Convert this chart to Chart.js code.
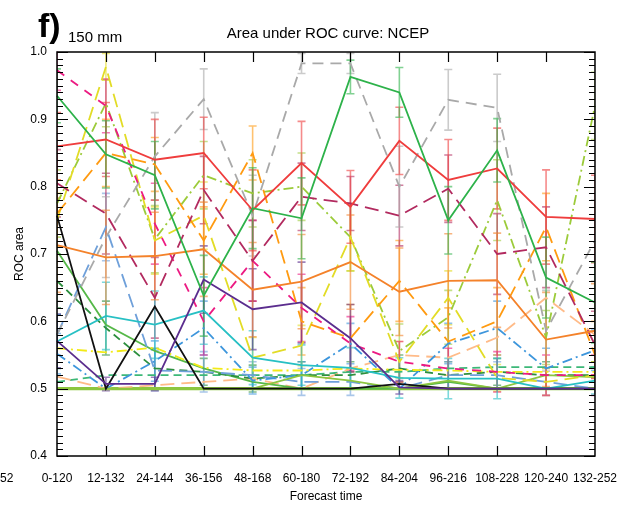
<!DOCTYPE html>
<html>
<head>
<meta charset="utf-8">
<script src="https://cdn.jsdelivr.net/npm/chart.js@4.4.1/dist/chart.umd.min.js"></script>
<style>
  html, body { margin: 0; padding: 0; background: #fff; }
  #wrap { width: 632px; height: 506px; }
</style>
</head>
<body>
<div id="wrap"><canvas id="roc"></canvas></div>
<script>
const categories = ["0-120", "12-132", "24-144", "36-156", "48-168", "60-180",
  "72-192", "84-204", "96-216", "108-228", "120-240", "132-252"];

const yTicks = [0.4, 0.5, 0.6, 0.7, 0.8, 0.9, 1.0];

// solid lines
const redSolid = [0.86, 0.87, 0.84, 0.85, 0.765, 0.835, 0.77, 0.868, 0.81, 0.827, 0.755, 0.752];
const redErr = [0.05, 0.055, 0.06, 0.053, 0.06, 0.062, 0.054, 0.05, 0.06, 0.06, 0.07, 0.065];
const greenSolid = [0.935, 0.848, 0.817, 0.638, 0.768, 0.753, 0.963, 0.94, 0.75, 0.854, 0.665, 0.628];
const greenErr = [0.04, 0.05, 0.05, 0.06, 0.06, 0.06, 0.025, 0.037, 0.05, 0.047, 0.06, 0.06];
const orangeSolid = [0.713, 0.695, 0.697, 0.707, 0.647, 0.659, 0.688, 0.644, 0.66, 0.661, 0.573, 0.586];
const orangeErr = [0.07, 0.07, 0.065, 0.07, 0.07, 0.07, 0.07, 0.065, 0.07, 0.07, 0.07, 0.07];
const purpleSolid = [0.571, 0.507, 0.507, 0.662, 0.618, 0.628, 0.575, 0.502, 0.5, 0.5, 0.5, 0.5];
const purpleErr = [0.04, 0.01, 0.01, 0.05, 0.06, 0.06, 0.05, 0.01, 0, 0, 0, 0];
const blackSolid = [0.757, 0.5, 0.622, 0.5, 0.5, 0.5, 0.5, 0.507, 0.5, 0.5, 0.5, 0.5];
const cyanSolid = [0.57, 0.608, 0.595, 0.616, 0.546, 0.535, 0.531, 0.516, 0.515, 0.515, 0.5, 0.512];
const cyanErr = [0.04, 0.05, 0.05, 0.05, 0.04, 0.03, 0.03, 0.03, 0.03, 0.03, 0, 0.02];
const midGreenSolid = [0.705, 0.595, 0.556, 0.53, 0.51, 0.5, 0.5, 0.5, 0.51, 0.5, 0.5, 0.5];
const limeSolid = [0.5, 0.5, 0.5, 0.5, 0.5, 0.52, 0.512, 0.5, 0.512, 0.5, 0.52, 0.517];
const baseline = [0.5, 0.5, 0.5, 0.5, 0.5, 0.5, 0.5, 0.5, 0.5, 0.5, 0.5, 0.5];

// dashed / dash-dot lines
const grayDash = [0.58, 0.725, 0.845, 0.93, 0.757, 0.983, 0.983, 0.8, 0.929, 0.917, 0.586, 0.72];
const grayErr = [0.05, 0.06, 0.065, 0.045, 0.06, 0.015, 0.015, 0.06, 0.045, 0.05, 0.06, 0.06];
const pinkDash = [0.973, 0.92, 0.745, 0.6, 0.69, 0.62, 0.567, 0.54, 0.53, 0.525, 0.52, 0.52];
const pinkErr = [0.03, 0.04, 0.06, 0.05, 0.06, 0.05, 0.04, 0.03, 0.03, 0.03, 0.03, 0.03];
const maroonDash = [0.805, 0.76, 0.635, 0.795, 0.69, 0.785, 0.775, 0.757, 0.797, 0.70, 0.71, 0.565];
const maroonErr = [0.05, 0.06, 0.06, 0.05, 0.06, 0.05, 0.04, 0.045, 0.05, 0.06, 0.06, 0.05];
const orangeDash = [0.76, 0.85, 0.833, 0.72, 0.85, 0.6, 0.575, 0.66, 0.57, 0.6, 0.74, 0.55];
const orangeDashErr = [0.05, 0.05, 0.04, 0.05, 0.04, 0.05, 0.05, 0.06, 0.05, 0.05, 0.05, 0.05];
const yellowDash = [0.75, 0.978, 0.72, 0.757, 0.546, 0.564, 0.725, 0.54, 0.635, 0.516, 0.51, 0.52];
const yellowDashErr = [0.04, 0.02, 0.05, 0.05, 0.03, 0.03, 0.05, 0.03, 0.04, 0.02, 0.02, 0.02];
const limeDashDot = [0.775, 0.924, 0.722, 0.817, 0.79, 0.8, 0.725, 0.556, 0.606, 0.78, 0.576, 0.92];
const limeDashDotErr = [0.05, 0.035, 0.05, 0.05, 0.05, 0.05, 0.05, 0.04, 0.04, 0.06, 0.04, 0.05];
const yellowDashDot = [0.56, 0.554, 0.561, 0.531, 0.527, 0.527, 0.53, 0.528, 0.527, 0.525, 0.525, 0.525];
const blueDash = [0.58, 0.74, 0.527, 0.525, 0.52, 0.51, 0.51, 0.5, 0.52, 0.52, 0.51, 0.5];
const blueDashErr = [0.03, 0.05, 0.03, 0.03, 0.02, 0.02, 0.02, 0, 0.02, 0.02, 0.02, 0];
const blueDashDot = [0.552, 0.5, 0.541, 0.59, 0.512, 0.52, 0.567, 0.5, 0.567, 0.59, 0.53, 0.557];
const blueDashDotErr = [0.03, 0, 0.03, 0.04, 0.02, 0.02, 0.03, 0, 0.03, 0.04, 0.03, 0.03];
const darkGreenDash = [0.66, 0.59, 0.53, 0.525, 0.515, 0.52, 0.52, 0.53, 0.52, 0.525, 0.52, 0.52];
const darkGreenErr = [0.04, 0.04, 0.03, 0.02, 0.02, 0.02, 0.02, 0.02, 0.02, 0.02, 0.02, 0.02];
const peachDash = [0.518, 0.5, 0.505, 0.51, 0.515, 0.5, 0.53, 0.55, 0.546, 0.576, 0.635, 0.58];
const seaGreenDash = [0.51, 0.52, 0.52, 0.52, 0.52, 0.52, 0.525, 0.525, 0.53, 0.532, 0.532, 0.532];

const longDash = [14, 7];
const dashDot = [10, 4, 2, 4];

function line(data, color, opts) {
  return Object.assign({
    data: data,
    borderColor: color,
    backgroundColor: color,
    borderWidth: 1.8,
    pointRadius: 0,
    tension: 0,
    fill: false,
  }, opts || {});
}

// first dataset is drawn on top
const datasets = [
  line(greenSolid, "#2db24a", { errors: greenErr }),
  line(redSolid, "#ef3d3d", { errors: redErr }),
  line(orangeSolid, "#f4822a", { errors: orangeErr }),
  line(purpleSolid, "#5b2d8e", { errors: purpleErr }),
  line(blackSolid, "#111111"),
  line(cyanSolid, "#27c0c4", { errors: cyanErr }),
  line(grayDash, "#a9a9a9", { borderDash: [11, 7], errors: grayErr }),
  line(maroonDash, "#b22a5f", { borderDash: longDash, errors: maroonErr }),
  line(pinkDash, "#ec1a82", { borderDash: [9, 8], errors: pinkErr }),
  line(orangeDash, "#ff9a10", { borderDash: longDash, errors: orangeDashErr }),
  line(yellowDash, "#e2dc26", { borderDash: longDash, errors: yellowDashErr }),
  line(limeDashDot, "#9ccb3a", { borderDash: dashDot, errors: limeDashDotErr }),
  line(limeSolid, "#8cc63f"),
  line(yellowDashDot, "#f2ea18", { borderDash: dashDot }),
  line(blueDashDot, "#3d96dc", { borderDash: dashDot, errors: blueDashDotErr }),
  line(blueDash, "#6fa0da", { borderDash: longDash, errors: blueDashErr }),
  line(darkGreenDash, "#2d8f3e", { borderDash: [8, 5], errors: darkGreenErr }),
  line(midGreenSolid, "#55b848"),
  line(peachDash, "#ffbb88", { borderDash: longDash }),
  line(seaGreenDash, "#3cb878", { borderDash: [8, 5] }),
  line(baseline, "#8cc63f", { borderWidth: 3.2 }),
];

function withAlpha(hex, a) {
  const n = parseInt(hex.slice(1), 16);
  return "rgba(" + (n >> 16) + "," + ((n >> 8) & 255) + "," + (n & 255) + "," + a + ")";
}

const framePlugin = {
  id: "frame",
  beforeDatasetsDraw(chart) {
    const ctx = chart.ctx;
    const area = chart.chartArea;
    const yScale = chart.scales.y;
    ctx.save();
    ctx.beginPath();
    ctx.rect(area.left, area.top - 1, area.right - area.left, area.bottom - area.top + 2);
    ctx.clip();
    ctx.lineWidth = 1.6;
    for (let i = chart.data.datasets.length - 1; i >= 0; i--) {
      const ds = chart.data.datasets[i];
      if (!ds.errors) continue;
      const meta = chart.getDatasetMeta(i);
      ctx.strokeStyle = withAlpha(ds.borderColor, 0.6);
      ds.data.forEach((v, j) => {
        const e = ds.errors[j];
        if (!e) return;
        const x = meta.data[j].x;
        const y1 = yScale.getPixelForValue(v + e);
        const y2 = yScale.getPixelForValue(v - e);
        ctx.beginPath();
        ctx.moveTo(x, y1); ctx.lineTo(x, y2);
        ctx.moveTo(x - 4, y1); ctx.lineTo(x + 4, y1);
        ctx.moveTo(x - 4, y2); ctx.lineTo(x + 4, y2);
        ctx.stroke();
      });
    }
    ctx.restore();
  },
  afterDraw(chart) {
    const ctx = chart.ctx;
    const a = chart.chartArea;
    const xs = chart.scales.x;
    const ys = chart.scales.y;
    ctx.save();
    ctx.strokeStyle = "#000";
    ctx.lineWidth = 1.5;
    ctx.strokeRect(a.left, a.top, a.right - a.left, a.bottom - a.top);

    ctx.lineWidth = 1.2;
    ctx.beginPath();
    for (let k = 40; k <= 100; k++) {
      const y = Math.round(ys.getPixelForValue(k / 100)) + 0.5;
      const len = k % 10 === 0 ? 11 : 6;
      ctx.moveTo(a.left, y); ctx.lineTo(a.left + len, y);
      ctx.moveTo(a.right, y); ctx.lineTo(a.right - len, y);
    }
    for (let i = 1; i < categories.length - 1; i++) {
      const x = Math.round(xs.getPixelForValue(i)) + 0.5;
      ctx.moveTo(x, a.bottom); ctx.lineTo(x, a.bottom - 10);
      ctx.moveTo(x, a.top); ctx.lineTo(x, a.top + 10);
    }
    ctx.stroke();

    ctx.fillStyle = "#000";
    ctx.textBaseline = "alphabetic";
    ctx.font = "bold 34px 'Liberation Sans', Arial, sans-serif";
    ctx.textAlign = "left";
    ctx.fillText("f)", 38, 37);
    ctx.font = "15px 'Liberation Sans', Arial, sans-serif";
    ctx.fillText("150 mm", 68, 42);
    ctx.textAlign = "center";
    ctx.fillText("Area under ROC curve: NCEP", (a.left + a.right) / 2 + 2, 38);
    ctx.font = "12px 'Liberation Sans', Arial, sans-serif";
    ctx.textAlign = "left";
    ctx.textBaseline = "middle";
    ctx.fillText("52", 0, 479);
    ctx.restore();
  },
};

Chart.defaults.font.family = "'Liberation Sans', Arial, sans-serif";
Chart.defaults.font.size = 12;
Chart.defaults.color = "#000";

let rocCanvas = document.getElementById("roc").getContext("2d");

let rocChart = new Chart(rocCanvas, {
  type: "line",
  data: {
    labels: categories,
    datasets: datasets,
  },
  options: {
    responsive: true,
    maintainAspectRatio: false,
    animation: false,
    layout: { padding: { left: 6, top: 52, right: 33, bottom: 0 } },
    plugins: {
      legend: { display: false },
      tooltip: { enabled: false },
    },
    scales: {
      x: {
        type: "category",
        offset: false,
        grid: { display: false, drawTicks: false },
        border: { display: false },
        ticks: { maxRotation: 0, autoSkip: false, padding: 15, font: { size: 12 } },
        title: { display: true, text: "Forecast time", font: { size: 12 }, padding: { top: 0, bottom: 2 } },
        afterFit(scale) { scale.height = 50; },
      },
      y: {
        min: 0.4,
        max: 1.0,
        grid: { display: false, drawTicks: false },
        border: { display: false },
        afterBuildTicks(scale) { scale.ticks = yTicks.map((v) => ({ value: v })); },
        ticks: { padding: 10, callback: (v) => Number(v).toFixed(1), font: { size: 12 } },
        title: { display: true, text: "ROC area", font: { size: 12 }, padding: { top: 6, bottom: 0 } },
        afterFit(scale) { scale.width = 51; },
      },
    },
  },
  plugins: [framePlugin],
});
</script>
</body>
</html>
